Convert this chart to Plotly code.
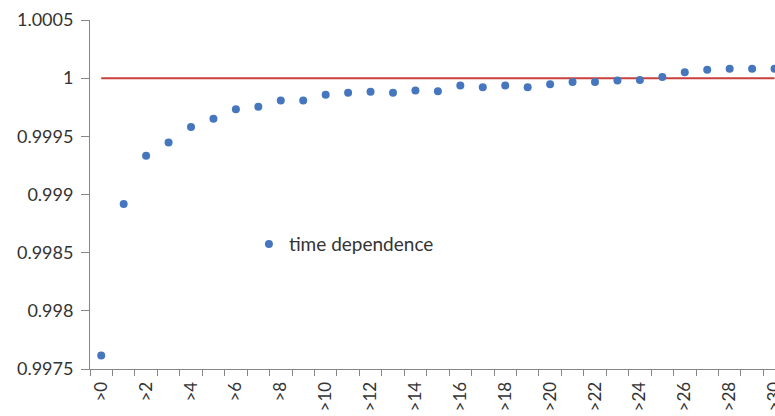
import plotly.graph_objects as go

categories = [">%d" % i for i in range(31)]
values = [0.997617, 0.998919, 0.999334, 0.999448, 0.999581, 0.999652, 0.999732,
          0.999755, 0.999807, 0.999807, 0.999858, 0.999875, 0.999884, 0.999875,
          0.999893, 0.999887, 0.999938, 0.999921, 0.999938, 0.999921, 0.999947,
          0.999967, 0.999967, 0.999979, 0.999985, 1.000010, 1.000050, 1.000073,
          1.000082, 1.000082, 1.000082]
reference = [1.0] * len(categories)
y_ticks = [0.9975, 0.998, 0.9985, 0.999, 0.9995, 1.0, 1.0005]
y_tick_labels = ["0.9975", "0.998", "0.9985", "0.999", "0.9995", "1", "1.0005"]

idx = list(range(len(categories)))
FONT = "Lato, Carlito, Calibri, sans-serif"
AXIS = "#868686"
TXT = "#333333"

fig = go.Figure()
fig.add_trace(go.Scatter(x=idx, y=reference, mode="lines",
                         line=dict(color="#C8413C", width=2),
                         showlegend=False, hoverinfo="skip"))
fig.add_trace(go.Scatter(x=idx, y=values, mode="markers", name="time dependence",
                         marker=dict(color="#4677BE", size=8)))

fig.update_layout(
    width=775, height=416,
    margin=dict(l=90, r=0, t=20, b=47, autoexpand=False),
    paper_bgcolor="white", plot_bgcolor="white",
    font=dict(family=FONT, size=18, color=TXT),
    legend=dict(x=0.232, y=0.358, xanchor="left", yanchor="middle",
                bgcolor="rgba(0,0,0,0)", font=dict(size=19, color=TXT),
                itemwidth=30),
    xaxis=dict(range=[-0.5, 30.02], showgrid=False, zeroline=False,
               showline=True, linecolor=AXIS, linewidth=1, automargin=False,
               tickmode="array", tickvals=idx[::2], ticktext=categories[::2],
               tickangle=-90, ticks="", ticklabelstandoff=5,
               ticklabeloverflow="allow",
               tickfont=dict(size=17, color=TXT),
               minor=dict(tickmode="array",
                          tickvals=[i - 0.5 for i in idx] + [30.5],
                          ticks="outside", ticklen=6, tickcolor=AXIS, showgrid=False)),
    yaxis=dict(range=[0.9975, 1.0005], showgrid=False, zeroline=False,
               showline=True, linecolor=AXIS, linewidth=1, automargin=False,
               tickmode="array", tickvals=y_ticks, ticktext=y_tick_labels,
               ticks="outside", ticklen=8, tickcolor=AXIS, ticklabelstandoff=4,
               tickfont=dict(size=18, color=TXT)),
)

fig.write_html("out.html")
